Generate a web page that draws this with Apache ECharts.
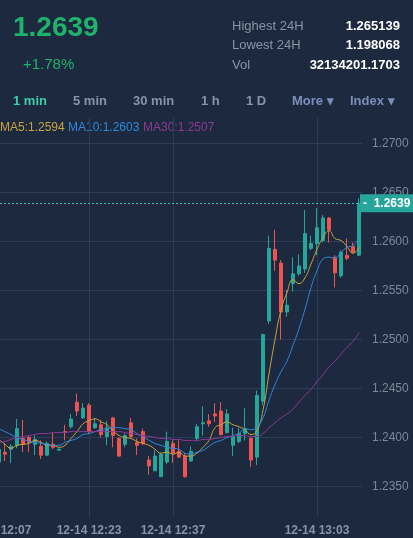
<!DOCTYPE html>
<html>
<head>
<meta charset="utf-8">
<title>1 min K-line</title>
<script src="https://cdn.jsdelivr.net/npm/echarts@6/dist/echarts.min.js"></script>
<style>
  html, body { margin: 0; padding: 0; background: #1c293e; }
  #chart { width: 413px; height: 538px; }
</style>
</head>
<body>
<div id="chart"></div>
<script>
// time of each 1-minute candle (date shown as prefix on the axis)
const times = [
  '12:07', '12:08', '12:09', '12:10', '12:11', '12:12', '12:13', '12:14', '12:15', '12:16',
  '12:17', '12:18', '12:19', '12:20', '12:22', '12:23', '12:24', '12:25', '12:26', '12:27',
  '12:28', '12:29', '12:30', '12:31', '12:32', '12:33', '12:34', '12:35', '12:36', '12:37',
  '12:38', '12:39', '12:40', '12:41', '12:42', '12:43', '12:44', '12:45', '12:46', '12:47',
  '12:48', '12:49', '12:51', '12:52', '12:53', '12:54', '12:55', '12:56', '12:57', '12:59',
  '13:00', '13:01', '13:02', '13:03', '13:04', '13:05', '13:06', '13:07', '13:08', '13:09',
  '13:10'
];
const labelTimes = ['12:07', '12:23', '12:37', '13:03'];
const datePrefix = '12-14';

const openVals = [
  1.2375, 1.2385, 1.2388, 1.2392, 1.2399, 1.2400, 1.2393, 1.2391, 1.2382, 1.2393,
  1.2387, 1.2406, 1.2411, 1.2436, 1.2420, 1.2433, 1.2410, 1.2413, 1.2401, 1.2420,
  1.2399, 1.2393, 1.2415, 1.2395, 1.2406, 1.2377, 1.2366, 1.2360, 1.2375, 1.2394,
  1.2386, 1.2381, 1.2376, 1.2399, 1.2414, 1.2417, 1.2424, 1.2427, 1.2405, 1.2392,
  1.2396, 1.2404, 1.2399, 1.2380, 1.2437, 1.2519, 1.2592, 1.2578, 1.2528, 1.2557,
  1.2567, 1.2572, 1.2593, 1.2598, 1.2601, 1.2624, 1.2584, 1.2565, 1.2586, 1.2595,
  1.2586
];
const closeVals = [
  1.2388, 1.2383, 1.2391, 1.2409, 1.2393, 1.2395, 1.2398, 1.2382, 1.2394, 1.2390,
  1.2388, 1.2405, 1.2419, 1.2427, 1.2430, 1.2406, 1.2414, 1.2403, 1.2410, 1.2402,
  1.2381, 1.2402, 1.2401, 1.2392, 1.2394, 1.2371, 1.2381, 1.2383, 1.2396, 1.2384,
  1.2380, 1.2360, 1.2386, 1.2411, 1.2415, 1.2414, 1.2422, 1.2403, 1.2424, 1.2401,
  1.2404, 1.2409, 1.2377, 1.2443, 1.2505, 1.2593, 1.2581, 1.2528, 1.2535, 1.2567,
  1.2575, 1.2608, 1.2598, 1.2614, 1.2624, 1.2612, 1.2568, 1.2589, 1.2583, 1.2589,
  1.2639
];
const lowVals = [
  1.2371, 1.2376, 1.2374, 1.2389, 1.2385, 1.2385, 1.2382, 1.2378, 1.2381, 1.2388,
  1.2387, 1.2397, 1.2409, 1.2422, 1.2419, 1.2404, 1.2409, 1.2400, 1.2392, 1.2390,
  1.2380, 1.2390, 1.2399, 1.2382, 1.2392, 1.2362, 1.2366, 1.2360, 1.2373, 1.2374,
  1.2379, 1.2359, 1.2375, 1.2396, 1.2402, 1.2411, 1.2416, 1.2402, 1.2404, 1.2381,
  1.2394, 1.2397, 1.2370, 1.2372, 1.2433, 1.2516, 1.2570, 1.2500, 1.2523, 1.2549,
  1.2565, 1.2568, 1.2591, 1.2586, 1.2599, 1.2599, 1.2553, 1.2563, 1.2581, 1.2588,
  1.2585
];
const highVals = [
  1.2396, 1.2394, 1.2393, 1.2419, 1.2418, 1.2402, 1.2402, 1.2397, 1.2396, 1.2405,
  1.2389, 1.2413, 1.2424, 1.2445, 1.2435, 1.2435, 1.2420, 1.2418, 1.2417, 1.2421,
  1.2400, 1.2404, 1.2420, 1.2399, 1.2409, 1.2381, 1.2387, 1.2384, 1.2406, 1.2397,
  1.2397, 1.2384, 1.2391, 1.2414, 1.2432, 1.2424, 1.2435, 1.2436, 1.2429, 1.2410,
  1.2410, 1.2430, 1.2400, 1.2448, 1.2506, 1.2606, 1.2612, 1.2581, 1.2550, 1.2584,
  1.2587, 1.2632, 1.2606, 1.2634, 1.2627, 1.2625, 1.2586, 1.2591, 1.2603, 1.2599,
  1.2644
];

// moving averages as drawn on the chart
const ma5Vals = [
  1.2398, 1.2393, 1.2389, 1.2392, 1.2393, 1.2394, 1.2397, 1.2395, 1.2392, 1.2392,
  1.2390, 1.2392, 1.2399, 1.2406, 1.2414, 1.2417, 1.2419, 1.2416, 1.2413, 1.2407,
  1.2402, 1.2400, 1.2399, 1.2396, 1.2394, 1.2392, 1.2388, 1.2384, 1.2385, 1.2383,
  1.2385, 1.2381, 1.2381, 1.2384, 1.2390, 1.2397, 1.2410, 1.2413, 1.2416, 1.2413,
  1.2411, 1.2408, 1.2403, 1.2407, 1.2428, 1.2465, 1.2500, 1.2530, 1.2548, 1.2561,
  1.2557, 1.2563, 1.2577, 1.2592, 1.2604, 1.2611, 1.2603, 1.2601, 1.2595, 1.2588,
  1.2594
];
const ma10Vals = [
  1.2409, 1.2406, 1.2403, 1.2400, 1.2398, 1.2396, 1.2395, 1.2394, 1.2393, 1.2392,
  1.2392, 1.2395, 1.2397, 1.2399, 1.2403, 1.2404, 1.2406, 1.2408, 1.2409, 1.2410,
  1.2410, 1.2409, 1.2408, 1.2404, 1.2401, 1.2397, 1.2394, 1.2392, 1.2390, 1.2389,
  1.2388, 1.2384, 1.2383, 1.2385, 1.2387, 1.2391, 1.2395, 1.2397, 1.2400, 1.2402,
  1.2404, 1.2409, 1.2408, 1.2411, 1.2420, 1.2438, 1.2454, 1.2467, 1.2478, 1.2494,
  1.2511, 1.2531, 1.2553, 1.2570, 1.2582, 1.2584, 1.2583, 1.2589, 1.2594, 1.2596,
  1.2603
];
const ma30Vals = [
  1.2395, 1.2396, 1.2398, 1.2400, 1.2401, 1.2402, 1.2403, 1.2404, 1.2404, 1.2405,
  1.2405, 1.2405, 1.2406, 1.2406, 1.2406, 1.2406, 1.2406, 1.2406, 1.2406, 1.2406,
  1.2406, 1.2405, 1.2404, 1.2403, 1.2402, 1.2401, 1.2400, 1.2399, 1.2399, 1.2398,
  1.2398, 1.2397, 1.2397, 1.2397, 1.2398, 1.2398, 1.2399, 1.2400, 1.2401, 1.2401,
  1.2402, 1.2402, 1.2401, 1.2401, 1.2404, 1.2410, 1.2415, 1.2420, 1.2424, 1.2429,
  1.2436, 1.2443, 1.2449, 1.2457, 1.2464, 1.2472, 1.2478, 1.2485, 1.2492, 1.2498,
  1.2507
];

// header figures
const lastPrice = 1.2639;
const changePct = '+1.78%';
const statNames = ['Highest 24H', 'Lowest 24H', 'Vol'];
const statValues = ['1.265139', '1.198068', '32134201.1703'];
const periods = ['1 min', '5 min', '30 min', '1 h', '1 D', 'More \u25BE', 'Index \u25BE'];

const UP = '#26a69a';
const DOWN = '#ef5350';
const MA_COLORS = ['#c9a33f', '#2f88da', '#8b3a94'];
const FONT = '"Liberation Sans", Arial, sans-serif';
const GRID_LINE = '#2e3d56';

const candles = openVals.map((o, i) => [o, closeVals[i], lowVals[i], highVals[i]]);
const showTime = (idx, value) => labelTimes.indexOf(value) >= 0;

function text(x, y, str, size, fill, weight, align) {
  return {
    type: 'text', x: x, y: y, silent: true,
    style: {
      text: str, fill: fill, fontSize: size, fontWeight: weight || 'normal',
      fontFamily: FONT, textAlign: align || 'left',
      verticalAlign: 'middle', textVerticalAlign: 'middle'
    }
  };
}

const graphics = [
  text(13, 28, lastPrice.toFixed(4), 28, '#1fb26b', 'bold'),
  text(23, 65, changePct, 15, '#1fb26b')
];
const statY = [26, 45.5, 65.5];
statNames.forEach((n, i) => {
  graphics.push(text(232, statY[i], n, 13, '#8a93a5'));
  graphics.push(text(400, statY[i], statValues[i], 13, '#ffffff', 'bold', 'right'));
});
const periodX = [13, 73, 133, 201, 246, 292, 350];
periods.forEach((p, i) => {
  let c = '#8793a8';
  if (i === 0) c = '#3fcfa6';
  if (i >= 5) c = '#7b8fb8';
  graphics.push(text(periodX[i], 101, p, 13, c, 'bold'));
});
const maLast = [ma5Vals, ma10Vals, ma30Vals].map(a => a[a.length - 1].toFixed(4));
const maNames = ['MA5', 'MA10', 'MA30'];
const maX = [0, 68, 143];
maNames.forEach((n, i) => {
  graphics.push(text(maX[i], 128, n + ':' + maLast[i], 12, MA_COLORS[i]));
});

const chart = echarts.init(document.getElementById('chart'));
const option = {
  backgroundColor: '#1c293e',
  animation: false,
  textStyle: { fontFamily: FONT },
  graphic: graphics,
  grid: { left: -4, right: 51, top: 118, bottom: 21, containLabel: false, outerBoundsMode: 'none' },
  xAxis: {
    type: 'category',
    data: times,
    boundaryGap: true,
    axisLine: { show: false },
    axisTick: { show: false },
    axisLabel: {
      interval: showTime,
      formatter: v => datePrefix + ' ' + v,
      color: '#8893a6', fontSize: 12, fontWeight: 'bold', margin: 8
    },
    splitLine: {
      show: true, interval: showTime, alignWithLabel: true,
      lineStyle: { color: GRID_LINE, width: 1 }
    }
  },
  yAxis: {
    type: 'value',
    position: 'right',
    scale: true,
    min: 1.231888,
    max: 1.272602,
    splitNumber: 8,
    axisLine: { show: false },
    axisTick: { show: false },
    axisLabel: {
      color: '#7d8799', fontSize: 12, margin: 10,
      showMinLabel: false, showMaxLabel: false,
      formatter: v => v.toFixed(4)
    },
    splitLine: {
      show: true, showMinLine: false, showMaxLine: false,
      lineStyle: { color: GRID_LINE, width: 1 }
    }
  },
  series: [
    {
      type: 'candlestick',
      data: candles,
      barWidth: 4,
      itemStyle: {
        color: UP, color0: DOWN,
        borderColor: UP, borderColor0: DOWN, borderWidth: 1
      },
      markLine: {
        silent: true,
        animation: false,
        precision: 4,
        symbol: ['none', 'none'],
        data: [{ yAxis: lastPrice }],
        lineStyle: { color: '#37c1b0', type: [2, 2], width: 1 },
        label: {
          position: 'end',
          distance: -2,
          formatter: '-  ' + lastPrice.toFixed(4),
          color: '#ffffff', fontWeight: 'bold', fontSize: 12,
          backgroundColor: UP,
          padding: [3, 6, 3, 3]
        }
      },
      z: 2
    },
    { name: 'MA5', type: 'line', data: ma5Vals, smooth: true, symbol: 'none', lineStyle: { color: MA_COLORS[0], width: 1 }, z: 3 },
    { name: 'MA10', type: 'line', data: ma10Vals, smooth: true, symbol: 'none', lineStyle: { color: MA_COLORS[1], width: 1 }, z: 3 },
    { name: 'MA30', type: 'line', data: ma30Vals, smooth: true, symbol: 'none', lineStyle: { color: MA_COLORS[2], width: 1 }, z: 3 }
  ]
};
chart.setOption(option);
</script>
</body>
</html>
